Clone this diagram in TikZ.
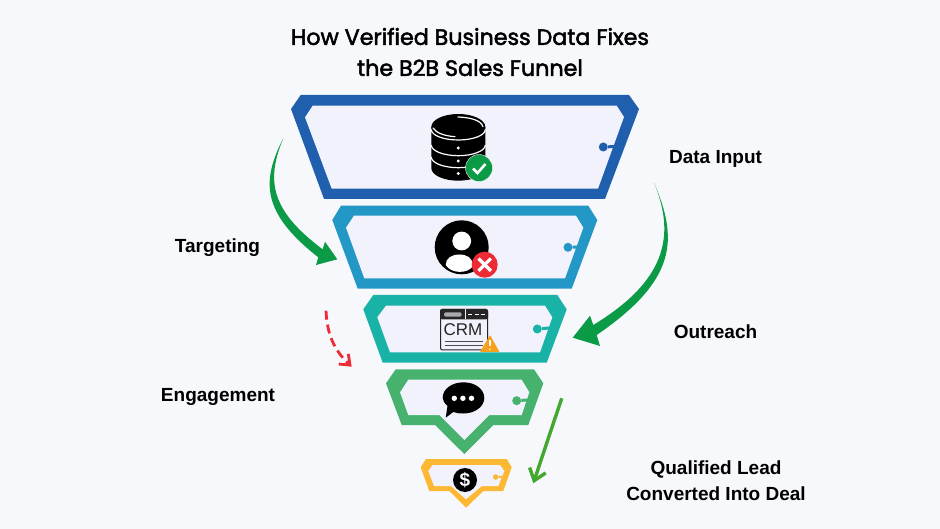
\documentclass[tikz,border=0pt]{standalone}
\usepackage{fontspec}
\setmainfont{Liberation Sans}
\newfontfamily\titlefont[FakeBold=2.2]{Poppins}
\usetikzlibrary{arrows.meta}
\definecolor{pagebg}{HTML}{F7F8FC}
\definecolor{innerbg}{HTML}{F2F2FD}
\definecolor{stageA}{HTML}{1F5FAE}
\definecolor{stageB}{HTML}{2397C6}
\definecolor{stageC}{HTML}{19B2A6}
\definecolor{stageD}{HTML}{46B26E}
\definecolor{stageE}{HTML}{FDB833}
\definecolor{bigarrow}{HTML}{0B9A45}
\definecolor{thinarrow}{HTML}{43A82E}
\definecolor{redmark}{HTML}{EE2B34}
\definecolor{warnmark}{HTML}{F9A01B}
\begin{document}
\begin{tikzpicture}[x=1pt,y=-1pt,
    label/.style ={font=\fontsize{19}{26}\selectfont\bfseries, align=center, text=black},
    heading/.style ={font=\fontsize{22.2}{31}\selectfont\titlefont, align=center, text=black},
    pin/.style ={circle, inner sep=0pt, minimum size=9pt},
    badge/.style ={circle, inner sep=0pt, minimum size=27pt}]
   \useasboundingbox (0,0) rectangle (940,529);
   \fill[pagebg] (0,0) rectangle (940,529);

   \node[heading] (title) at (470,52) {How Verified Business Data Fixes\\the B2B Sales Funnel};

   % funnel stages
   \fill[stageA] (300.7,95) -- (629,95) -- (639,109) -- (605,199) -- (324,199) -- (291,109) -- cycle;
   \fill[innerbg] (312.7,105.7) -- (616.7,105.7) -- (624,117) -- (598,188.7) -- (331.7,188.7) -- (305,117.3) -- cycle;
   \fill[stageB] (341,205.7) -- (588.3,205.7) -- (597.3,220) -- (571.7,288.7) -- (357.7,288.7) -- (332.3,220) -- cycle;
   \fill[innerbg] (354,215.7) -- (576,215.7) -- (583.3,227.7) -- (565,278.3) -- (364.3,278.3) -- (346,227.7) -- cycle;
   \fill[stageC] (373.3,295) -- (557.3,295) -- (566.7,309.3) -- (546.7,362.7) -- (382.7,362.7) -- (363.3,309.3) -- cycle;
   \fill[innerbg] (386,305.7) -- (545,305.7) -- (552.3,317.3) -- (540,352.3) -- (390,352.3) -- (377.3,317.3) -- cycle;
   \fill[stageD] (395.7,369.3) -- (534,369.3) -- (543.3,383.3) -- (528.3,425) -- (493.3,425) -- (464.3,454) -- (435,425) -- (401.7,425) -- (386,383.3) -- cycle;
   \fill[innerbg] (408.3,379.7) -- (521.7,379.7) -- (529.3,392.3) -- (521.7,415) -- (489.3,415) -- (464.3,440) -- (439.3,415) -- (408.3,415) -- (400,392.3) -- cycle;
   \fill[stageE] (426,459) -- (506.7,459) -- (511.7,467.3) -- (503.3,491) -- (483.3,491) -- (466,507.7) -- (449.3,491) -- (429.3,491) -- (420.7,467.3) -- cycle;
   \fill[innerbg] (432.7,465) -- (500,465) -- (504.3,471) -- (498.3,486) -- (481.7,486) -- (466,499.3) -- (451,486) -- (434,486) -- (428.3,471) -- cycle;

   % pins on the right edges
   \node[pin,fill=stageA] (dotA) at (603.3,147) {};
   \node[pin,fill=stageB] (dotB) at (568,247.3) {};
   \node[pin,fill=stageC] (dotC) at (537.3,329) {};
   \node[pin,fill=stageD] (dotD) at (516.7,400.7) {};
   \node[pin,fill=stageE,minimum size=5.5pt] (dotE) at (495.7,477) {};
   \coordinate (edgeA) at (616,146.5);
   \coordinate (edgeB) at (577,247);
   \coordinate (edgeC) at (549,328);
   \coordinate (edgeD) at (527,400);
   \coordinate (edgeE) at (502,476.7);
   \draw[stageA,line width=3pt] (dotA) -- (edgeA);
   \draw[stageB,line width=3pt] (dotB) -- (edgeB);
   \draw[stageC,line width=3pt] (dotC) -- (edgeC);
   \draw[stageD,line width=3pt] (dotD) -- (edgeD);
   \draw[stageE,line width=2pt] (dotE) -- (edgeE);

   % database icon
   \fill[black] (458.3,127) ellipse (27 and 13);
   \fill[black] (431.3,127) -- (431.3,168) arc[start angle=180,end angle=0,x radius=27,y radius=12.7]
     -- (485.3,127) -- cycle;
   \draw[white,line width=1.2pt] (431.3,129.5) arc[start angle=180,end angle=0,x radius=27,y radius=10.5];
   \draw[white,line width=1.2pt] (431.3,145) arc[start angle=180,end angle=0,x radius=27,y radius=10.7];
   \draw[white,line width=1.2pt] (431.3,157) arc[start angle=180,end angle=0,x radius=27,y radius=10.7];
   \draw[white,line width=1.2pt,line cap=round] (433,128) .. controls (436,133) and (445,136) .. (455,136.7);
   \draw[white,line width=1.2pt,line cap=round] (458,117) .. controls (470,117.5) and (481,120) .. (483,126.7);
   \fill[white] (458.3,148) circle (1.6) (458.3,161) circle (1.6) (458.3,173.5) circle (1.6);
   \node[badge,fill=bigarrow,draw=innerbg] (okbadge) at (479,168) {};
   \draw[white,line width=2.6pt] (473,168.5) -- (477.5,173) -- (485.5,164);

   % person icon
   \node[circle,fill=black,inner sep=0pt,minimum size=54pt] (person) at (461.7,247.3) {};
   \fill[white] (461.7,241) circle (9.4);
   \fill[white] (445.7,265) .. controls (445.7,258) and (452,254.5) .. (459.5,254.5) .. controls (467,254.5) and (473,258) .. (473,266) .. controls (468,274) and (451,274) .. (445.7,265) -- cycle;
   \node[badge,fill=redmark,minimum size=26pt] (nobadge) at (484.7,264.7) {};
   \draw[white,line width=3.2pt] (478.5,258.5) -- (490.9,270.9) (490.9,258.5) -- (478.5,270.9);

   % crm window
   \draw[black!85,line width=1pt,rounded corners=2pt,fill=innerbg] (440.5,309.5) rectangle (487.5,350);
   \fill[black!85,rounded corners=2pt] (440,309) rectangle (488,319.3);
   \fill[innerbg!70!black,rounded corners=1.5pt] (444,312.3) rectangle (461.7,316.7);
   \draw[innerbg,line width=.8pt] (465,309) -- (465,319);
   \draw[white,line width=1pt,dash pattern=on 4pt off 2.5pt] (468.3,314.3) -- (485,314.3);
   \node[inner sep=0pt,text=black!85,font=\fontsize{17}{17}\selectfont] (crm) at (463,330) {CRM};
   \draw[black!70,line width=.9pt] (445,341) -- (483,341) (445,345) -- (483,345);
   \fill[warnmark,rounded corners=.6pt] (490,335) -- (499.5,352) -- (480,352) -- cycle;
   \draw[white,line width=1.5pt] (490,340) -- (490,346.5);
   \fill[white] (490,349.3) circle (.9);

   % chat icon
   \fill[black] (445.7,417.7) -- (447.5,406) .. controls (444,403) and (442.7,400) .. (442.7,397.5)
     .. controls (442.7,389) and (452,382.3) .. (463.5,382.3) .. controls (475,382.3) and (484.3,389) .. (484.3,398)
     .. controls (484.3,406.5) and (475,413.5) .. (463.5,413.5) .. controls (459,413.5) and (456,413) .. (453.3,412) -- cycle;
   \fill[white] (454.3,398.3) circle (2.7) (462.9,398.3) circle (2.7) (471.5,398.3) circle (2.7);

   % dollar icon
   \node[circle,fill=black,inner sep=0pt,minimum size=24pt,text=white,font=\fontsize{19}{19}\selectfont\bfseries] (dollar) at (465,480) {\$};

   % big green arrows
   \coordinate (leftStart) at (283.3,138.3);
   \coordinate (leftTip) at (337.3,259.3);
   \coordinate (rightStart) at (654,182.7);
   \coordinate (rightTip) at (572.7,337.7);
   \fill[bigarrow] (leftStart) .. controls (262,180) and (260.1,211.8) .. (318.3,257.3)
     -- (316,265) -- (leftTip) -- (325,241.7) -- (322.7,249.3)
     .. controls (270,210) and (266,180) .. (leftStart) -- cycle;
   \fill[bigarrow] (rightStart) .. controls (678.4,239.3) and (677,280) .. (596.7,335)
     -- (600,346) -- (rightTip) -- (590,315.7) -- (593.3,325)
     .. controls (664,282) and (676.8,237.6) .. (rightStart) -- cycle;

   % thin arrows
   \coordinate (thinStart) at (561.7,398.3);
   \coordinate (thinEnd) at (533.3,483.3);
   \draw[thinarrow,line width=3.4pt,-{Straight Barb[length=11pt,width=17pt]}] (thinStart) -- (thinEnd);
   \coordinate (redStart) at (326,310.7);
   \coordinate (redEnd) at (351.7,366.7);
   \draw[redmark,line width=2.8pt,dash pattern=on 9pt off 5pt,-{Straight Barb[length=9pt,width=14pt]}] (redStart) to[bend right=22] (redEnd);

   % labels
   \node[label] (input) at (715.5,159) {Data Input};
   \node[label] (targeting) at (217.5,248) {Targeting};
   \node[label] (outreach) at (715.5,332) {Outreach};
   \node[label] (engagement) at (218,397) {Engagement};
   \node[label] (deal) at (716,481) {Qualified Lead\\Converted Into Deal};
 \end{tikzpicture}
\end{document}
